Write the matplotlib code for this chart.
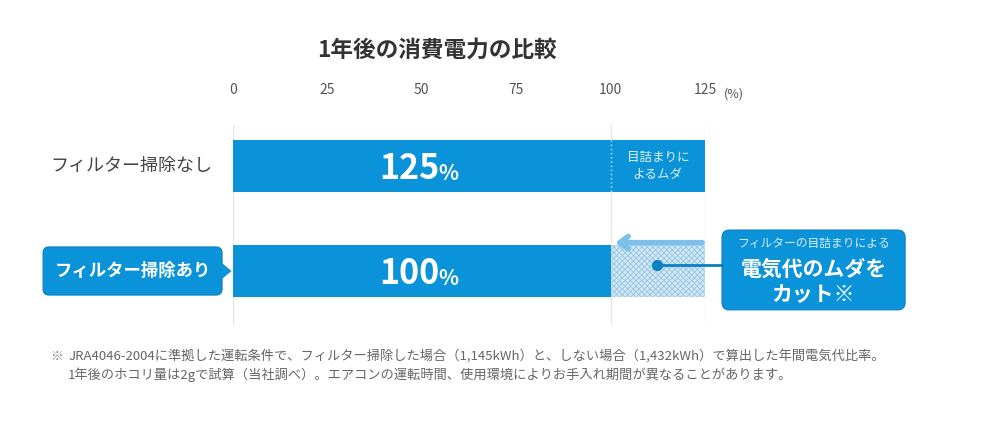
import matplotlib
matplotlib.use('Agg')
import matplotlib.pyplot as plt
from matplotlib.patches import FancyBboxPatch, Polygon

plt.rcParams['font.family'] = ['Noto Sans CJK JP', 'DejaVu Sans']
plt.rcParams['hatch.linewidth'] = 0.6

# data
categories = ['フィルター掃除なし', 'フィルター掃除あり']
values = [125, 100]
ticks = [0, 25, 50, 75, 100, 125]
grid_at = [0, 100, 125]
waste_label = '目詰まりに\nよるムダ'
title = '1年後の消費電力の比較'
notes = ['JRA4046-2004に準拠した運転条件で、フィルター掃除した場合（1,145kWh）と、しない場合（1,432kWh）で算出した年間電気代比率。',
         '1年後のホコリ量は2gで試算（当社調べ）。エアコンの運転時間、使用環境によりお手入れ期間が異なることがあります。']

blue = '#0b93d9'
dark = '#0a7fc2'

fig = plt.figure(figsize=(10, 4.23), dpi=100)
ax = fig.add_axes([0.233, 1 - 325 / 423, 0.472, 200 / 423])
ax.set_xlim(0, 125)
ax.set_ylim(1.514, -0.390)

for g in grid_at:
    ax.axvline(g, color='#e6e6e6', lw=1, zorder=0)

ypos = [0, 1]
full, cut = values
h = 0.5
ax.barh(ypos[0], full, height=h, color=blue, zorder=2)
ax.barh(ypos[1], cut, height=h, color=blue, zorder=2)
ax.barh(ypos[1], full - cut, left=cut, height=h, facecolor='#d3e8f4',
        edgecolor='#94c6e3', hatch='xxxxxx', lw=0, zorder=2)
ax.plot([cut, cut], [ypos[0] - h / 2, ypos[0] + h / 2], ls=(0, (1, 2)),
        color='#cfe8f7', lw=1, zorder=3)

# value labels
for y, v in zip(ypos, values):
    ax.text(54.6, y + 0.02, str(v), color='white', fontsize=24.5, fontweight='bold',
            ha='right', va='center', zorder=4)
    ax.text(54.3, y + 0.07, '%', color='white', fontsize=15, fontweight='bold',
            ha='left', va='center', zorder=4)
ax.text((cut + full) / 2, ypos[0], waste_label, color='#e3f2fb', fontsize=9,
        ha='center', va='center', linespacing=1.35, zorder=4)

# arrow over the waste part
ax.annotate('', xy=(cut + 0.5, ypos[1] - h / 2 - 0.02), xytext=(full, ypos[1] - h / 2 - 0.02),
            arrowprops=dict(arrowstyle='->,head_length=0.6,head_width=0.45',
                            color='#7cc0e9', lw=4), zorder=5)

# category labels
ax.text(-5.5, ypos[0], categories[0], ha='right', va='center', fontsize=13,
        color='#444444')
box = FancyBboxPatch((-50.3, ypos[1] - 0.229), 47.4, 0.458,
                     boxstyle='round,pad=0,rounding_size=1.6',
                     mutation_aspect=3.776 / 105, facecolor=blue, edgecolor=dark,
                     lw=0.8, clip_on=False, zorder=3)
ax.add_patch(box)
ax.add_patch(Polygon([(-3.2, ypos[1] - 0.085), (-0.4, ypos[1]), (-3.2, ypos[1] + 0.085)],
                     closed=True, facecolor=blue, edgecolor='none', clip_on=False, zorder=3))
ax.text(-26.6, ypos[1], categories[1], ha='center', va='center', fontsize=12.5,
        fontweight='bold', color='white', zorder=4)

# callout
ax.plot([112.3, 129.5], [0.943, 0.943], color=dark, lw=2, clip_on=False, zorder=5)
ax.plot([112.3], [0.943], 'o', color=dark, ms=7, clip_on=False, zorder=5)
cbox = FancyBboxPatch((129.5, 0.61), 48.5, 0.76,
                      boxstyle='round,pad=0,rounding_size=2.0',
                      mutation_aspect=3.776 / 105, facecolor=blue, edgecolor=dark,
                      lw=0.8, clip_on=False, zorder=3)
ax.add_patch(cbox)
ax.text(153.7, 0.735, 'フィルターの目詰まりによる', ha='center', va='center',
        fontsize=8.5, color='#d8eefb', zorder=4)
ax.text(153.7, 0.98, '電気代のムダを', ha='center', va='center', fontsize=15,
        fontweight='bold', color='white', zorder=4)
ax.text(153.7, 1.22, 'カット※', ha='center', va='center', fontsize=15,
        fontweight='bold', color='white', zorder=4)

# axis styling
ax.xaxis.tick_top()
ax.set_xticks(ticks)
ax.set_xticklabels([str(t) for t in ticks])
ax.tick_params(axis='x', length=0, pad=20, labelsize=10, labelcolor='#555555')
ax.set_yticks([])
for s in ax.spines.values():
    s.set_visible(False)
ax.text(130.0, -0.685, '(%)', fontsize=9, color='#555555', va='center', ha='left')

fig.text(0.437, 1 - 50 / 423, title, ha='center', va='center', fontsize=16.3,
         fontweight='bold', color='#333333')
fig.text(0.050, 1 - 356 / 423, '※', fontsize=9, color='#777777', va='center')
for i, line in enumerate(notes):
    fig.text(0.068, 1 - (356 + 19 * i) / 423, line, fontsize=9.5, color='#666666',
             va='center')

fig.savefig('out.png', dpi=100)
